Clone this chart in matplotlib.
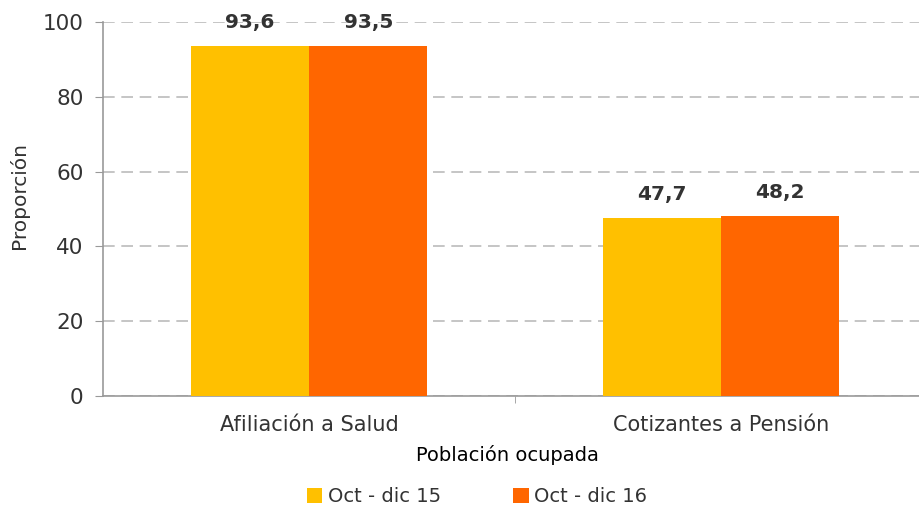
import numpy as np
import matplotlib
matplotlib.use("Agg")
import matplotlib.pyplot as plt

categorias = ["Afiliación a Salud", "Cotizantes a Pensión"]
series = ["Oct - dic 15", "Oct - dic 16"]
valores_15 = [93.6, 47.7]
valores_16 = [93.5, 48.2]
colores = ["#FFC000", "#FF6600"]

plt.rcParams['font.family'] = ['DejaVu Sans']

fig = plt.figure(figsize=(9.19, 5.08), dpi=100)
ax = fig.add_axes([103/919, 112/508, 824/919, 374/508])

x = np.arange(len(categorias))
w = 0.2875
b1 = ax.bar(x - w/2, valores_15, w, color=colores[0], label=series[0], zorder=3)
b2 = ax.bar(x + w/2, valores_16, w, color=colores[1], label=series[1], zorder=3)

for barras in (b1, b2):
    for r in barras:
        v = r.get_height()
        ax.annotate(f"{v:.1f}".replace(".", ","), (r.get_x() + r.get_width()/2, v),
                    xytext=(0, 10), textcoords="offset points", ha="center", va="bottom",
                    fontsize=14.5, fontweight="bold", color="#333333")

ax.set_xlim(-0.5, 1.5)
ax.set_ylim(0, 100)
ax.set_yticks([0, 20, 40, 60, 80, 100])
ax.set_xticks(x)
ax.set_xticklabels(categorias)
ax.set_xticks([0.5], minor=True)
ax.tick_params(axis="x", which="major", length=0, pad=14, labelsize=15, colors="#333333")
ax.tick_params(axis="x", which="minor", length=5, color="#999999")
ax.tick_params(axis="y", length=6, color="#999999", labelsize=15.5, labelcolor="#333333", pad=8)

ax.yaxis.grid(True, linestyle=(0, (7, 4)), color="#BBBBBB", linewidth=1.2, zorder=0)
for s in ["top", "right"]:
    ax.spines[s].set_visible(False)
for s in ["left", "bottom"]:
    ax.spines[s].set_color("#999999")
    ax.spines[s].set_linewidth(1.2)

ax.set_ylabel("Proporción", fontsize=14.5, color="#333333")
ax.yaxis.set_label_coords(-0.09, 0.535)
ax.set_xlabel("Población ocupada", fontsize=14, color="#000000")
ax.xaxis.set_label_coords((507 - 103)/824, -0.131)

leg = fig.legend(handles=[b1, b2], labels=series, loc="center", bbox_to_anchor=(477/919, 1 - 497/508),
                 ncol=2, frameon=False, fontsize=14, handlelength=0.8, handleheight=0.8,
                 handletextpad=0.3, columnspacing=3.7)
for t in leg.get_texts():
    t.set_color("#333333")

fig.savefig("out.png", dpi=100)
